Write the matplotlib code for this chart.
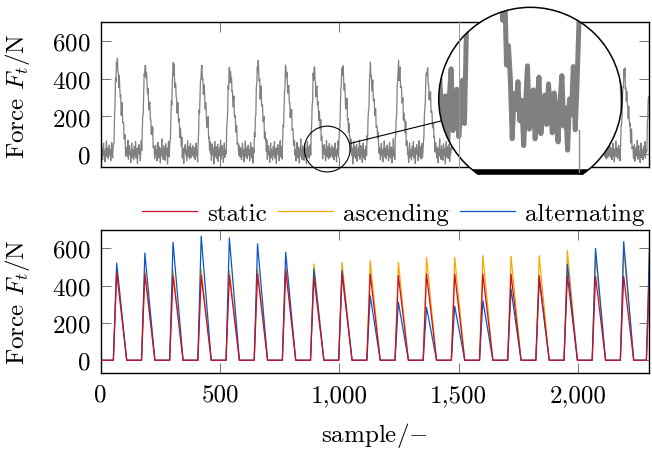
import numpy as np
import matplotlib.pyplot as plt
from matplotlib.patches import Circle, Rectangle
from matplotlib.lines import Line2D
from matplotlib.ticker import FuncFormatter
from matplotlib.transforms import IdentityTransform, ScaledTranslation, blended_transform_factory

plt.rcParams['font.family'] = ['cmr10']
plt.rcParams['mathtext.fontset'] = 'cm'
plt.rcParams['axes.formatter.use_mathtext'] = True
plt.rcParams['font.size'] = 18

# sample index of each force peak
peak_at = [67, 185, 303, 421, 539, 657, 775, 893, 1011, 1129,
           1247, 1365, 1483, 1601, 1719, 1837, 1955, 2073, 2191, 2300]

# measured signal (top), peak heights in N
measured_peak = [503, 472, 464, 459, 464, 480, 459, 453, 467, 450,
                 480, 459, 455, 470, 460, 450, 465, 445, 432, 430]
# sensor noise around the measured signal, N
noise = [12, -18, 35, 4, -30, 22, 58, -9, 15, -41, 27, 6, 70, -14, 19, 33, -25, 9, 48, -5,
         24, -36, 13, 62, 1, -20, 38, 17, -47, 29, 8, 81, -12, 21, -28, 44, 3, 16, -33, 55,
         10, -6, 31, -52, 26, 67, -15, 14, 40, -23, 7, 52, -38, 20, 2, 36, -11, 74, -27, 18,
         45, -3, 11, -44, 30, 59, -17, 23, 5, -31, 42, 15, -8, 66, -21, 28, 9, -49, 34, 13,
         50, -2, 25, -35, 19, 71, -13, 6, 39, -26, 22, 56, -19, 11, 32, -7, 47]

# simulated load profiles (bottom), peak heights in N
static_peak = [472, 463, 454, 454, 454, 463, 481, 445, 463, 463,
               454, 463, 463, 463, 463, 454, 454, 450, 450, 460]
ascending_peak = [490, 481, 481, 486, 481, 490, 507, 516, 525, 534,
                  525, 552, 552, 561, 558, 561, 588, 570, 597, 600]
alternating_peak = [520, 575, 633, 665, 656, 624, 579, 490, 481, 346,
                    311, 284, 290, 320, 382, 436, 516, 600, 636, 640]

n_samples = 2297
rise, fall = 14, 42


def pulses(peaks, fall_len):
    xs, ys = [0], [0]
    for p, v in zip(peak_at, peaks):
        xs += [p - rise, p, p + fall_len]
        ys += [0, v, 0]
    return np.array(xs), np.array(ys)


red = '#c8102e'
orange = '#f7a800'
blue = '#0a56c9'
gray = '#808080'

fig = plt.figure(figsize=(6.52, 4.52), dpi=100)
W, H = 652, 452
ax_top = fig.add_axes([100.7 / W, 1 - 168.3 / H, 548.3 / W, 145 / H])
ax_bot = fig.add_axes([100.7 / W, 1 - 374.3 / H, 548.3 / W, 143.6 / H])

# measured signal (logged every 2nd sample)
px, py = pulses(measured_peak, 39)
sample = np.arange(0, n_samples + 1, 2)
force = np.interp(sample, px, py) + np.array(noise)[np.arange(len(sample)) % len(noise)]
ax_top.plot(sample, force, color=gray, lw=0.9)

for lbl, pk, c in [('static', static_peak, red), ('ascending', ascending_peak, orange),
                   ('alternating', alternating_peak, blue)]:
    x, y = pulses(pk, fall)
    ax_bot.plot(x, y, color=c, lw=0.9, label=lbl)
# draw static on top
ax_bot.lines[0].set_zorder(3)

for ax in (ax_top, ax_bot):
    ax.set_xlim(0, n_samples)
    ax.set_ylim(-70, 700)
    ax.set_yticks([0, 200, 400, 600])
    ax.set_xticks([0, 500, 1000, 1500, 2000])
    ax.tick_params(direction='in', top=True, right=True, length=7.5, width=0.7,
                   color='0.45', pad=7.5)
    for s in ax.spines.values():
        s.set_linewidth(1.0)
    ax.set_ylabel('Force $F_t$/N', labelpad=14)
ax_top.tick_params(labelbottom=False)
ax_bot.xaxis.set_major_formatter(FuncFormatter(lambda v, p: f'{int(v):,}'))
ax_bot.set_xlabel('sample/$-$', labelpad=10)

ax_bot.legend(loc='lower right', bbox_to_anchor=(1.0, 1.0), ncol=3, frameon=False,
              borderaxespad=0.1, borderpad=0.1, handlelength=2.2, handletextpad=0.4,
              columnspacing=0.45)

# spy: source circle on the measured signal, magnified 4x
spy_source = (949, 27)
spy_target = (1800, 293)
mag = 4
r_small = 22.9  # px

x_scale = ax_top.transData.transform((1, 0))[0] - ax_top.transData.transform((0, 0))[0]
y_scale = ax_top.transData.transform((0, 1))[1] - ax_top.transData.transform((0, 0))[1]
r_big = r_small * mag
cx, cy = ax_top.transData.transform(spy_target)
ax_in = fig.add_axes([(cx - r_big) / W, (cy - r_big) / H, 2 * r_big / W, 2 * r_big / H])
ax_in.set_xlim(spy_source[0] - r_small / x_scale, spy_source[0] + r_small / x_scale)
ax_in.set_ylim(spy_source[1] - r_small / y_scale, spy_source[1] + r_small / y_scale)
ax_in.axis('off')

clip = Circle((0.5, 0.5), 0.5, transform=ax_in.transAxes)
bar_frac = (-70 - ax_in.get_ylim()[0]) / (ax_in.get_ylim()[1] - ax_in.get_ylim()[0])
keep = Rectangle((-0.1, bar_frac - 0.016), 1.2, 1.2, transform=ax_in.transAxes)

bg = Circle((0.5, 0.5), 0.5, transform=ax_in.transAxes, facecolor='white',
            edgecolor='none', zorder=0)
ax_in.add_patch(bg)
bg.set_clip_path(keep)
ln, = ax_in.plot(sample, force, color=gray, lw=0.9 * mag, zorder=2)
ln.set_clip_path(clip)
bar = ax_in.axhline(-70, color='black', lw=1.0 * mag, zorder=3)
bar.set_clip_path(clip)
tk, = ax_in.plot([1000, 1000], [-70, -70 + 7.5 / 0.72 / y_scale], color='0.55', lw=1.0, zorder=3)
tk.set_clip_path(clip)
edge = Circle((0.5, 0.5), 0.5, transform=ax_in.transAxes, facecolor='none',
              edgecolor='black', lw=1.1, zorder=4)
ax_in.add_patch(edge)
edge.set_clip_path(keep)

# small circle and connector
small = Circle((0, 0), r_small / 100, transform=fig.dpi_scale_trans +
               ScaledTranslation(spy_source[0], spy_source[1], ax_top.transData),
               facecolor='none', edgecolor='black', lw=0.8)
fig.add_artist(small)
sx, sy = ax_top.transData.transform(spy_source)
d = np.array([cx - sx, cy - sy])
u = d / np.hypot(*d)
fig.add_artist(Line2D([sx + u[0] * r_small, cx - u[0] * r_big],
                      [sy + u[1] * r_small, cy - u[1] * r_big],
                      transform=IdentityTransform(), color='black', lw=0.8))

# thin marker line at sample 1500 across the top panel
fig.add_artist(Line2D([1500, 1500], [0, 1],
                      transform=blended_transform_factory(ax_top.transData, ax_top.transAxes),
                      color='0.6', lw=0.7))

fig.savefig('out.png', dpi=100)
